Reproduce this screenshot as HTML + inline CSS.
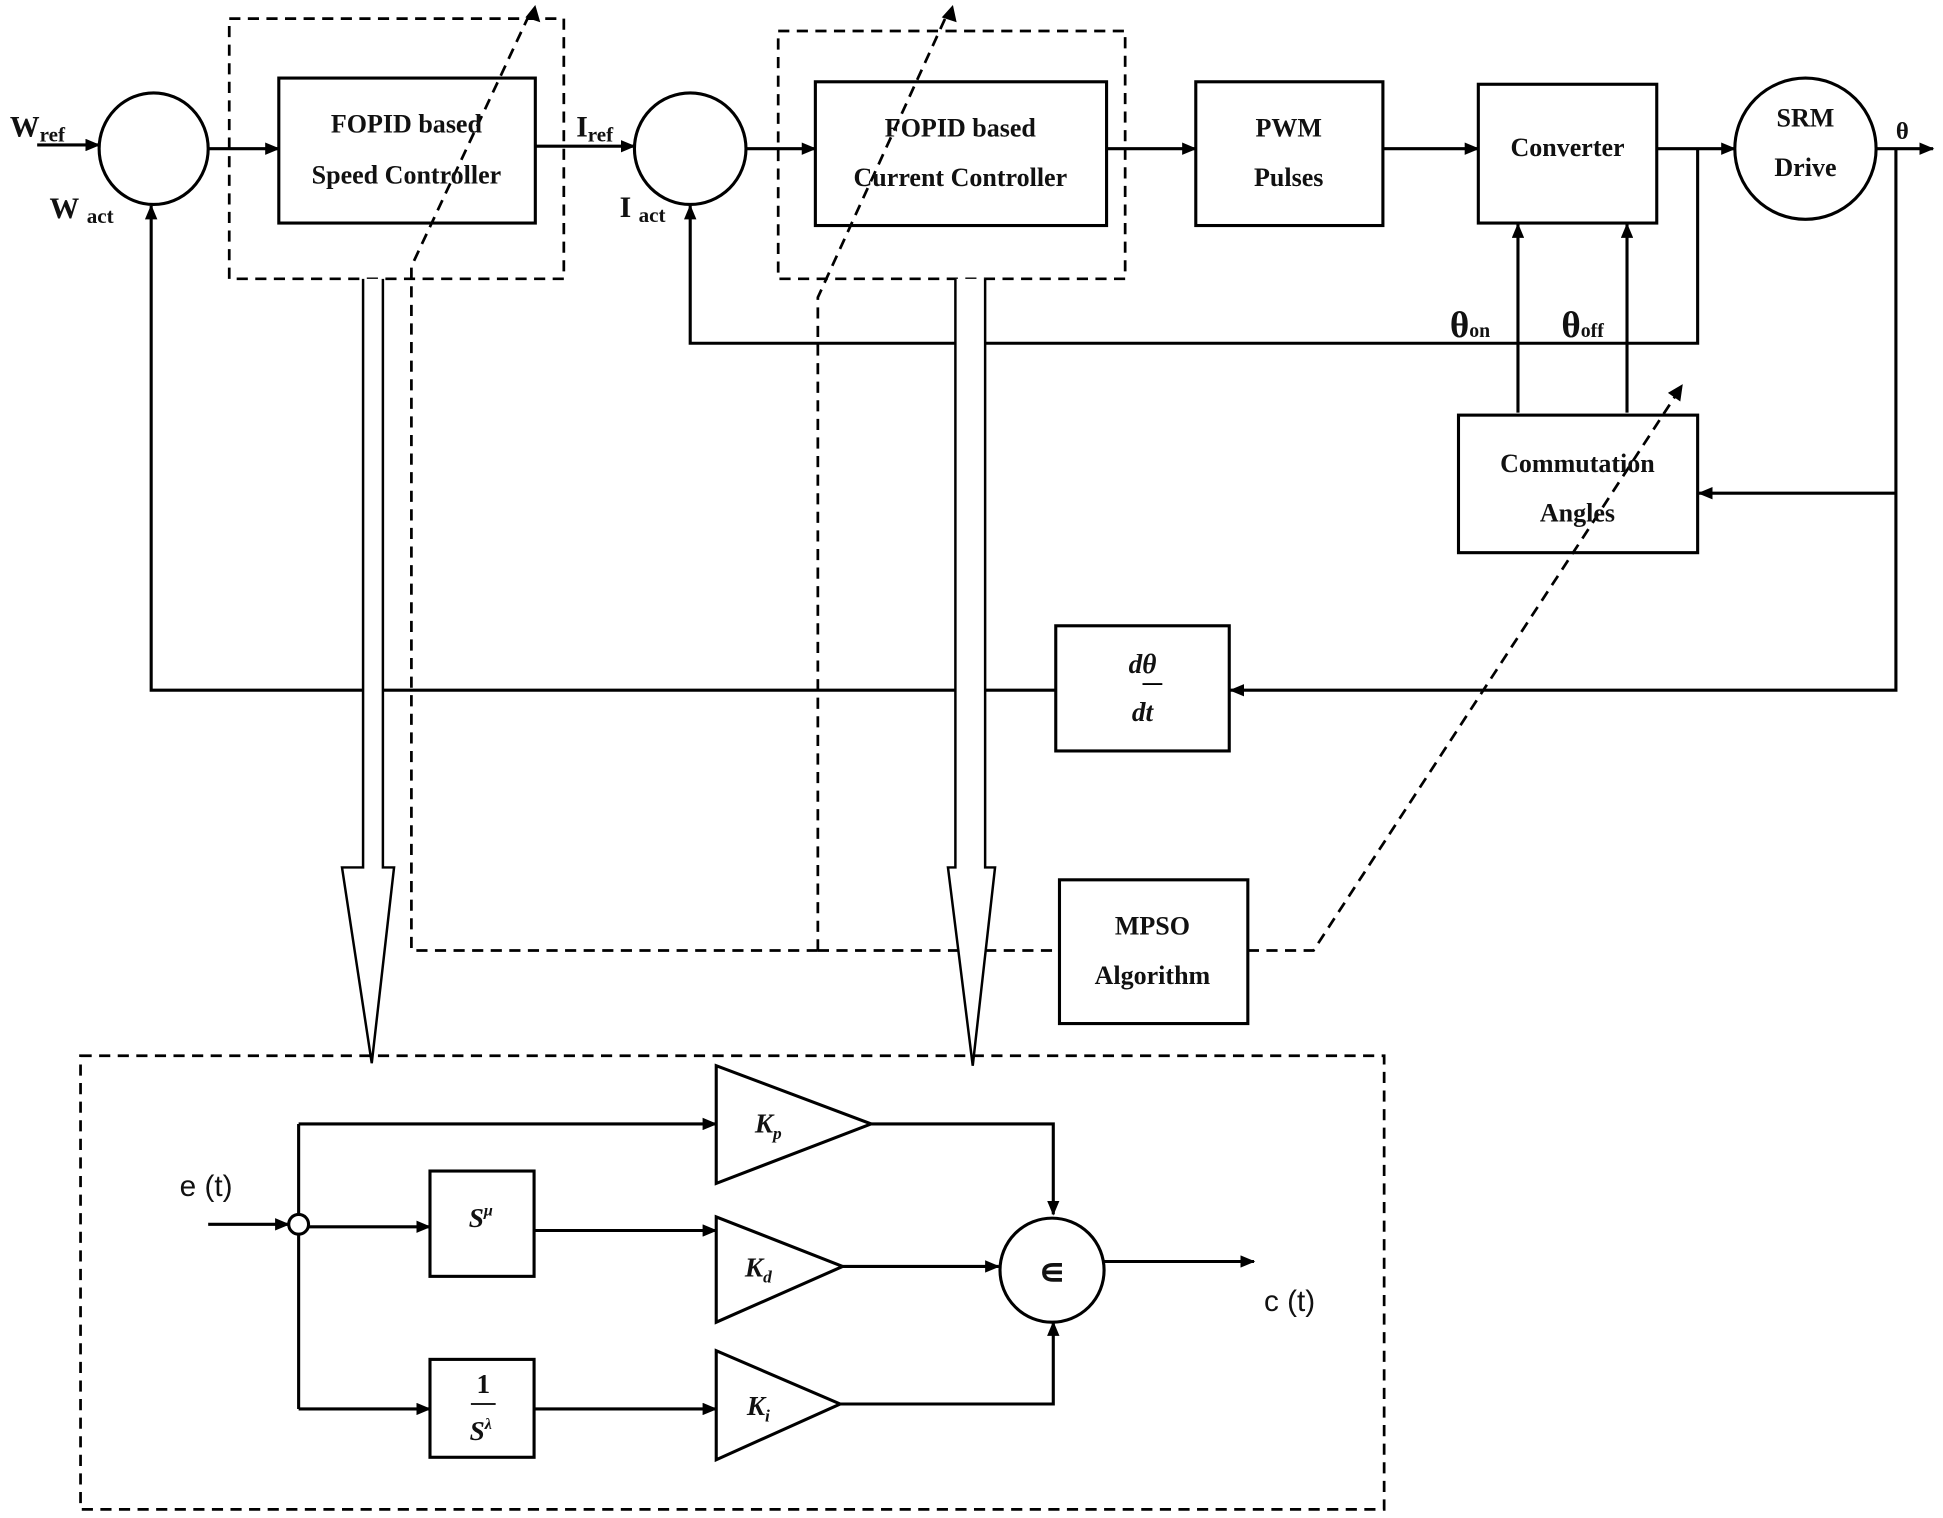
<!DOCTYPE html>
<html><head><meta charset="utf-8"><style>
html,body{margin:0;padding:0;background:#fff;}
svg{display:block;}
text{font-family:"Liberation Serif",serif;font-weight:bold;fill:#111;}
</style></head><body>
<svg width="1943" height="1518" viewBox="0 0 1568 1225" preserveAspectRatio="none" xmlns="http://www.w3.org/2000/svg">
<defs>
<marker id="a" markerWidth="12" markerHeight="10" refX="11" refY="5" orient="auto" markerUnits="userSpaceOnUse"><path d="M0,0 L12,5 L0,10 z" fill="#000"/></marker>
</defs>
<g stroke="#000" stroke-width="2.5" fill="none">
<!-- top row -->
<line x1="30" y1="117" x2="80" y2="117" marker-end="url(#a)"/>
<ellipse cx="124" cy="120" rx="44" ry="45"/>
<line x1="168" y1="120" x2="225" y2="120" marker-end="url(#a)"/>
<rect x="225" y="63" width="207" height="117"/>
<line x1="432" y1="118" x2="512" y2="118" marker-end="url(#a)"/>
<ellipse cx="557" cy="120" rx="45" ry="45"/>
<line x1="602" y1="120" x2="658" y2="120" marker-end="url(#a)"/>
<rect x="658" y="66" width="235" height="116"/>
<line x1="893" y1="120" x2="965" y2="120" marker-end="url(#a)"/>
<rect x="965" y="66" width="151" height="116"/>
<line x1="1116" y1="120" x2="1193" y2="120" marker-end="url(#a)"/>
<rect x="1193" y="68" width="144" height="112"/>
<line x1="1337" y1="120" x2="1400" y2="120" marker-end="url(#a)"/>
<circle cx="1457" cy="120" r="57"/>
<line x1="1514" y1="120" x2="1560" y2="120" marker-end="url(#a)"/>
<!-- current feedback -->
<polyline points="1370,120 1370,277 557,277 557,166" marker-end="url(#a)"/>
<line x1="1225" y1="333" x2="1225" y2="181" marker-end="url(#a)"/>
<line x1="1313" y1="333" x2="1313" y2="181" marker-end="url(#a)"/>
<rect x="1177" y="335" width="193" height="111"/>
<polyline points="1530,120 1530,557 993,557" marker-end="url(#a)"/>
<line x1="1530" y1="398" x2="1371" y2="398" marker-end="url(#a)"/>
<rect x="852" y="505" width="140" height="101"/>
<polyline points="852,557 122,557 122,166" marker-end="url(#a)"/>
<rect x="855" y="710" width="152" height="116"/>
</g>
<!-- dashed -->
<g stroke="#000" stroke-width="2.2" fill="none" stroke-dasharray="9,6">
<rect x="185" y="15" width="270" height="210"/>
<rect x="628" y="25" width="280" height="200"/>
<polyline points="660,767 332,767 332,215 428,10"/>
<polyline points="660,767 660,240 765,10"/>
<line x1="660" y1="767" x2="855" y2="767"/>
<polyline points="1007,767 1060,767 1353,318"/>
<rect x="65" y="852" width="1052" height="366"/>
</g>
<g fill="#000">
<path d="M432,4 L436,18 L424,14 z"/>
<path d="M769,4 L772,18 L760,14 z"/>
<path d="M1358,310 L1356,324 L1346,317 z"/>
</g>
<!-- hollow arrows -->
<g stroke="#000" stroke-width="2" fill="#fff">
<path d="M293,225 L293,700 L276,700 L300,858 L318,700 L309,700 L309,225"/>
<path d="M771,225 L771,700 L765,700 L785,860 L803,700 L795,700 L795,225"/>
</g>
<!-- bottom FOPID -->
<g stroke="#000" stroke-width="2.5" fill="none">
<line x1="168" y1="988" x2="233" y2="988" marker-end="url(#a)"/>
<line x1="241" y1="907" x2="241" y2="980"/>
<line x1="241" y1="996" x2="241" y2="1137"/>
<circle cx="241" cy="988" r="8"/>
<line x1="241" y1="907" x2="578" y2="907" marker-end="url(#a)"/>
<polygon points="578,860 578,955 703,907"/>
<polyline points="703,907 850,907 850,980" marker-end="url(#a)"/>
<line x1="249" y1="990" x2="347" y2="990" marker-end="url(#a)"/>
<rect x="347" y="945" width="84" height="85"/>
<line x1="431" y1="993" x2="578" y2="993" marker-end="url(#a)"/>
<polygon points="578,982 578,1067 680,1022"/>
<line x1="680" y1="1022" x2="806" y2="1022" marker-end="url(#a)"/>
<circle cx="849" cy="1025" r="42"/>
<line x1="891" y1="1018" x2="1012" y2="1018" marker-end="url(#a)"/>
<line x1="241" y1="1137" x2="347" y2="1137" marker-end="url(#a)"/>
<rect x="347" y="1097" width="84" height="79"/>
<line x1="431" y1="1137" x2="578" y2="1137" marker-end="url(#a)"/>
<polygon points="578,1090 578,1178 678,1133"/>
<polyline points="678,1133 850,1133 850,1067" marker-end="url(#a)"/>
<line x1="380" y1="1133" x2="400" y2="1133" stroke-width="1.5"/>
</g>
<!-- labels -->
<text x="8" y="110" font-size="24">W<tspan font-size="17" dy="4">ref</tspan></text>
<text x="40" y="176" font-size="24">W<tspan font-size="17" dx="6" dy="4">act</tspan></text>
<text x="465" y="110" font-size="24">I<tspan font-size="17" dy="4">ref</tspan></text>
<text x="500" y="175" font-size="24">I<tspan font-size="17" dx="6" dy="4">act</tspan></text>
<g font-size="21" text-anchor="middle">
<text x="328" y="107">FOPID based</text>
<text x="328" y="148">Speed Controller</text>
<text x="775" y="110">FOPID based</text>
<text x="775" y="150">Current Controller</text>
<text x="1040" y="110">PWM</text>
<text x="1040" y="150">Pulses</text>
<text x="1265" y="126">Converter</text>
<text x="1457" y="102">SRM</text>
<text x="1457" y="142">Drive</text>
<text x="1273" y="381">Commutation</text>
<text x="1273" y="421">Angles</text>
<text x="930" y="754">MPSO</text>
<text x="930" y="794">Algorithm</text>
</g>
<text x="1530" y="112" font-size="20">θ</text>
<text x="1170" y="272" font-size="30">θ<tspan font-size="16">on</tspan></text>
<text x="1260" y="272" font-size="30">θ<tspan font-size="16">off</tspan></text>
<g font-style="italic" font-size="22" text-anchor="middle">
<text x="922" y="543">dθ</text>
<text x="922" y="582">dt</text>
<text x="620" y="914">K<tspan font-size="14" dy="5">p</tspan></text>
<text x="612" y="1030">K<tspan font-size="14" dy="5">d</tspan></text>
<text x="612" y="1142">K<tspan font-size="14" dy="5">i</tspan></text>
<text x="388" y="990">S<tspan font-size="13" dy="-9">μ</tspan></text>
<text x="390" y="1124" font-style="normal">1</text>
<text x="388" y="1162">S<tspan font-size="13" dy="-9">λ</tspan></text>
</g>
<line x1="922" y1="552" x2="938" y2="552" stroke="#000" stroke-width="1.5"/>
<text x="849" y="1036" font-size="30" text-anchor="middle">∊</text>
<text x="145" y="965" font-size="24" font-weight="normal" style="font-family:'Liberation Sans',sans-serif;font-weight:normal">e (t)</text>
<text x="1020" y="1058" font-size="24" style="font-family:'Liberation Sans',sans-serif;font-weight:normal">c (t)</text>
</svg>
</body></html>
